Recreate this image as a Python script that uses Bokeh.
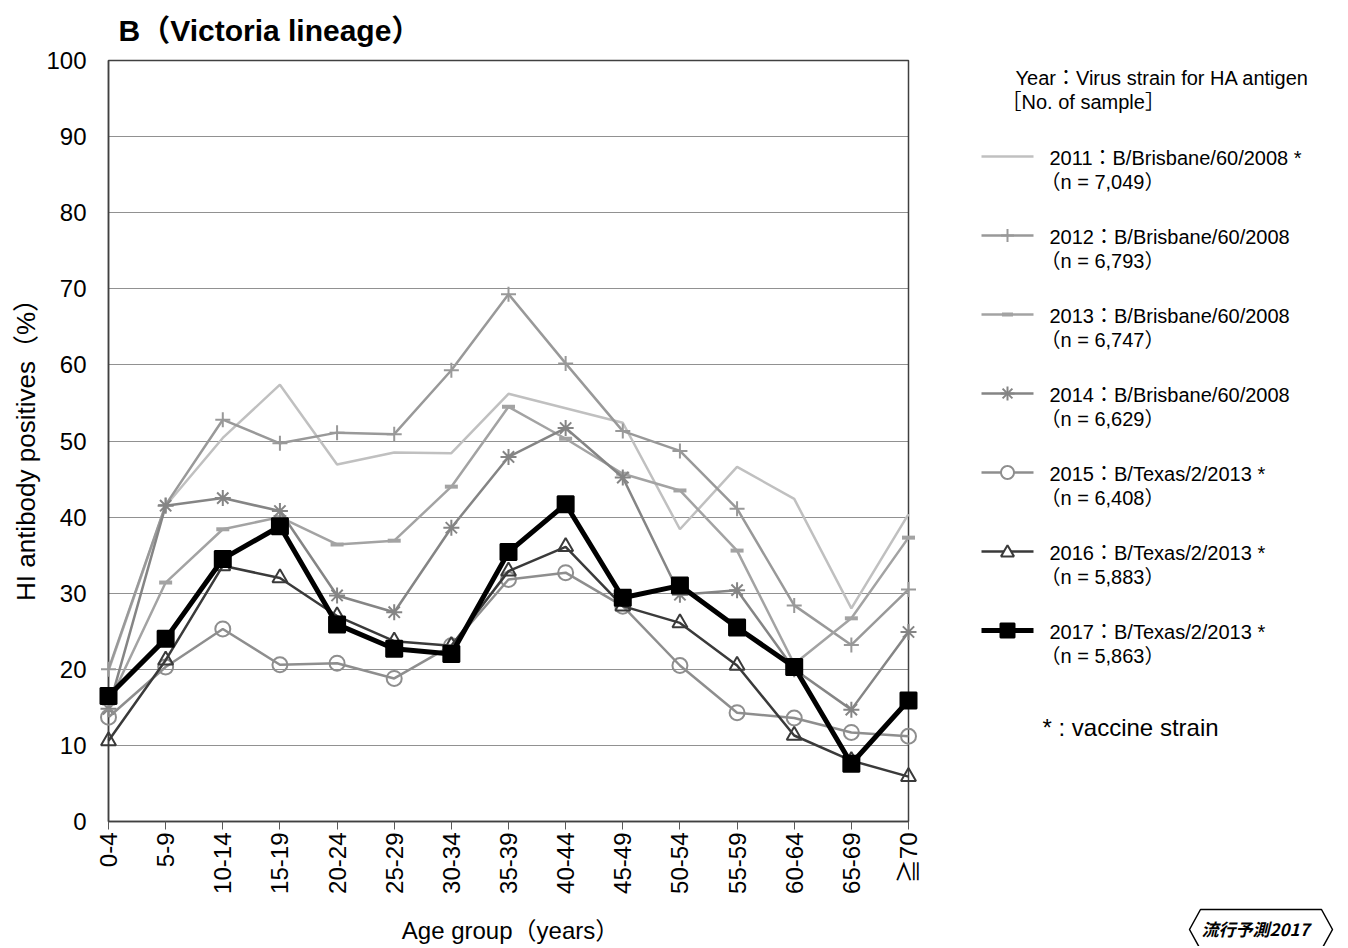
import math
from bokeh.plotting import figure
from bokeh.models import Range1d, FixedTicker
from bokeh.embed import file_html
from bokeh.resources import INLINE
from bokeh.core.properties import value

# ---------------- data ----------------
age_groups = ["0-4", "5-9", "10-14", "15-19", "20-24", "25-29", "30-34", "35-39",
              "40-44", "45-49", "50-54", "55-59", "60-64", "65-69", "≧70"]
years = ["2011", "2012", "2013", "2014", "2015", "2016", "2017"]
strains = ["B/Brisbane/60/2008 *", "B/Brisbane/60/2008", "B/Brisbane/60/2008",
           "B/Brisbane/60/2008", "B/Texas/2/2013 *", "B/Texas/2/2013 *", "B/Texas/2/2013 *"]
samples = ["7,049", "6,793", "6,747", "6,629", "6,408", "5,883", "5,863"]

pos_2011 = [19.8, 41.5, 50.4, 57.4, 46.9, 48.5, 48.4, 56.2, 54.3, 52.4, 38.4, 46.6, 42.4, 28.0, 40.4]
pos_2012 = [20.0, 41.6, 52.8, 49.7, 51.1, 50.9, 59.3, 69.3, 60.2, 51.3, 48.7, 41.1, 28.4, 23.2, 30.5]
pos_2013 = [15.5, 31.4, 38.4, 40.0, 36.4, 36.9, 44.0, 54.5, 50.3, 45.7, 43.5, 35.6, 20.7, 26.7, 37.3]
pos_2014 = [14.8, 41.5, 42.5, 40.8, 29.7, 27.5, 38.6, 47.9, 51.7, 45.2, 29.8, 30.4, 20.0, 14.7, 24.9]
pos_2015 = [13.7, 20.3, 25.3, 20.6, 20.8, 18.8, 23.1, 31.8, 32.7, 28.3, 20.5, 14.3, 13.6, 11.7, 11.2]
pos_2016 = [10.6, 21.2, 33.6, 32.0, 27.0, 23.7, 23.1, 32.9, 36.1, 28.3, 26.1, 20.5, 11.3, 8.0, 5.9]
pos_2017 = [16.5, 24.0, 34.5, 38.8, 25.9, 22.7, 22.0, 35.4, 41.7, 29.4, 31.0, 25.5, 20.3, 7.6, 15.9]
series = [pos_2011, pos_2012, pos_2013, pos_2014, pos_2015, pos_2016, pos_2017]

y_ticks = [0, 10, 20, 30, 40, 50, 60, 70, 80, 90, 100]

title_text = "B（Victoria lineage）"
x_title = "Age group（years）"
y_title = "HI antibody positives（%）"

# ---------------- styles ----------------
colors = ["#c0c0c0", "#999999", "#a3a3a3", "#858585", "#8e8e8e", "#3a3a3a", "#000000"]
widths = [2.5, 2.5, 2.5, 2.5, 2.5, 2.5, 5.0]
markers = [None, "cross", "dash", "asterisk", "circle", "triangle", "square"]
msizes = [0, 15, 13, 16, 15, 15, 16]
mfills = [None, None, None, None, None, None, "#000000"]
mwidths = [0, 2, 4, 2, 2, 2, 2]

FONT = "'Liberation Sans', 'Noto Sans CJK JP'"
CJK = "'Noto Sans CJK JP'"

W, H = 1346, 946
FL, FT, FR, FB = 108, 60, 908, 821   # frame box in page pixels

# ---------------- main chart ----------------
p = figure(width=W, height=H, x_range=Range1d(0, 14), y_range=Range1d(0, 100),
           output_backend="svg", toolbar_location=None,
           min_border_left=FL, min_border_right=W - FR, min_border_top=FT,
           min_border_bottom=H - FB)
p.extra_x_ranges = {"px": Range1d(FL, FR)}
p.extra_y_ranges = {"py": Range1d(FB, FT)}

p.outline_line_color = "#404040"
p.outline_line_width = 1.5
p.background_fill_color = "white"
p.border_fill_color = "white"

p.xgrid.visible = False
p.ygrid.ticker = FixedTicker(ticks=y_ticks)
p.ygrid.grid_line_color = "#222222"
p.ygrid.grid_line_dash = "1 1"
p.ygrid.grid_line_width = 1

xax = p.xaxis[0]
xax.ticker = FixedTicker(ticks=list(range(len(age_groups))))
xax.major_label_overrides = {i: lab for i, lab in enumerate(age_groups)}
xax.major_label_orientation = math.pi / 2
xax.major_label_text_font = FONT
xax.major_label_text_font_size = "24px"
xax.major_label_text_color = "#000000"
xax.major_label_standoff = 3
xax.major_tick_out = 8
xax.major_tick_in = 0
xax.major_tick_line_color = "#595959"
xax.minor_tick_line_color = None
xax.axis_line_color = "#404040"
xax.axis_line_width = 1.5

yax = p.yaxis[0]
yax.ticker = FixedTicker(ticks=y_ticks)
yax.major_label_text_font = FONT
yax.major_label_text_font_size = "24px"
yax.major_label_text_color = "#000000"
yax.major_tick_out = 0
yax.major_tick_in = 0
yax.major_label_standoff = 22
yax.minor_tick_line_color = None
yax.axis_line_color = "#404040"
yax.axis_line_width = 1.5

xs = list(range(len(age_groups)))
for i, vals in enumerate(series):
    r = p.line(xs, vals, line_color=colors[i], line_width=widths[i])
    r.level = "overlay"
    if markers[i]:
        m = p.scatter(xs, vals, marker=markers[i], size=msizes[i], line_color=colors[i],
                      fill_color=mfills[i], line_width=mwidths[i])
        m.level = "overlay"


def ptext(x, y, txt, size, font=FONT, style="normal", align="left", angle=0.0):
    r = p.text(x=[x], y=[y], text=[txt], text_font=value(font), text_font_size=size,
               text_font_style=style, text_align=align, text_baseline="middle",
               text_color="#000000", angle=angle, x_range_name="px", y_range_name="py")
    r.level = "overlay"
    return r


def pline(xv, yv, color, width):
    r = p.line(xv, yv, line_color=color, line_width=width,
               x_range_name="px", y_range_name="py")
    r.level = "overlay"


def ppatch(xv, yv, fill, color, width):
    r = p.patch(xv, yv, fill_color=fill, line_color=color, line_width=width,
                x_range_name="px", y_range_name="py")
    r.level = "overlay"


def legend_marker(kind, cx, cy, size, color, fill, lw):
    h = size / 2.0
    if kind == "cross":
        pline([cx - h, cx + h], [cy, cy], color, lw)
        pline([cx, cx], [cy - h, cy + h], color, lw)
    elif kind == "dash":
        pline([cx - h, cx + h], [cy, cy], color, lw)
    elif kind == "asterisk":
        pline([cx - h, cx + h], [cy, cy], color, lw)
        pline([cx, cx], [cy - h, cy + h], color, lw)
        d = h * 0.7
        pline([cx - d, cx + d], [cy - d, cy + d], color, lw)
        pline([cx - d, cx + d], [cy + d, cy - d], color, lw)
    elif kind == "circle":
        n = 32
        ppatch([cx + h * math.cos(2 * math.pi * k / n) for k in range(n)],
               [cy + h * math.sin(2 * math.pi * k / n) for k in range(n)],
               "white", color, lw)
    elif kind == "triangle":
        ppatch([cx - h, cx + h, cx], [cy + h * 0.75, cy + h * 0.75, cy - h * 0.95],
               "white", color, lw)
    elif kind == "square":
        ppatch([cx - h, cx + h, cx + h, cx - h], [cy - h, cy - h, cy + h, cy + h],
               fill, color, lw)


# titles
ptext(118, 30, title_text, "30px", style="bold")
ptext(510, 930, x_title, "24px", align="center")
ptext(25, 443, y_title, "26px", align="center", angle=math.pi / 2)

# ---------------- legend ----------------
ptext(1015, 77, "Year：Virus strain for HA antigen", "20px")
ptext(1001, 101, "［No. of sample］", "20px")

for i in range(len(years)):
    y0 = 156 + i * 79
    pline([981, 1033], [y0, y0], colors[i], widths[i])
    if markers[i]:
        legend_marker(markers[i], 1007, y0, msizes[i] - 2, colors[i], mfills[i], mwidths[i])
    ptext(1049, y0 + 1.5, f"{years[i]}：{strains[i]}", "20px")
    ptext(1040, y0 + 25, f"（n = {samples[i]}）", "20px")

ptext(1042, 727, "* : vaccine strain", "24px")

# logo badge
ppatch([1200, 1321, 1332, 1321, 1200, 1189], [909, 909, 929, 949, 949, 929],
       "white", "#000000", 1.5)
ptext(1255, 928, "流行予測2017", "17px", font=CJK, style="bold italic", align="center")

open("out.html", "w").write(file_html(p, INLINE))
